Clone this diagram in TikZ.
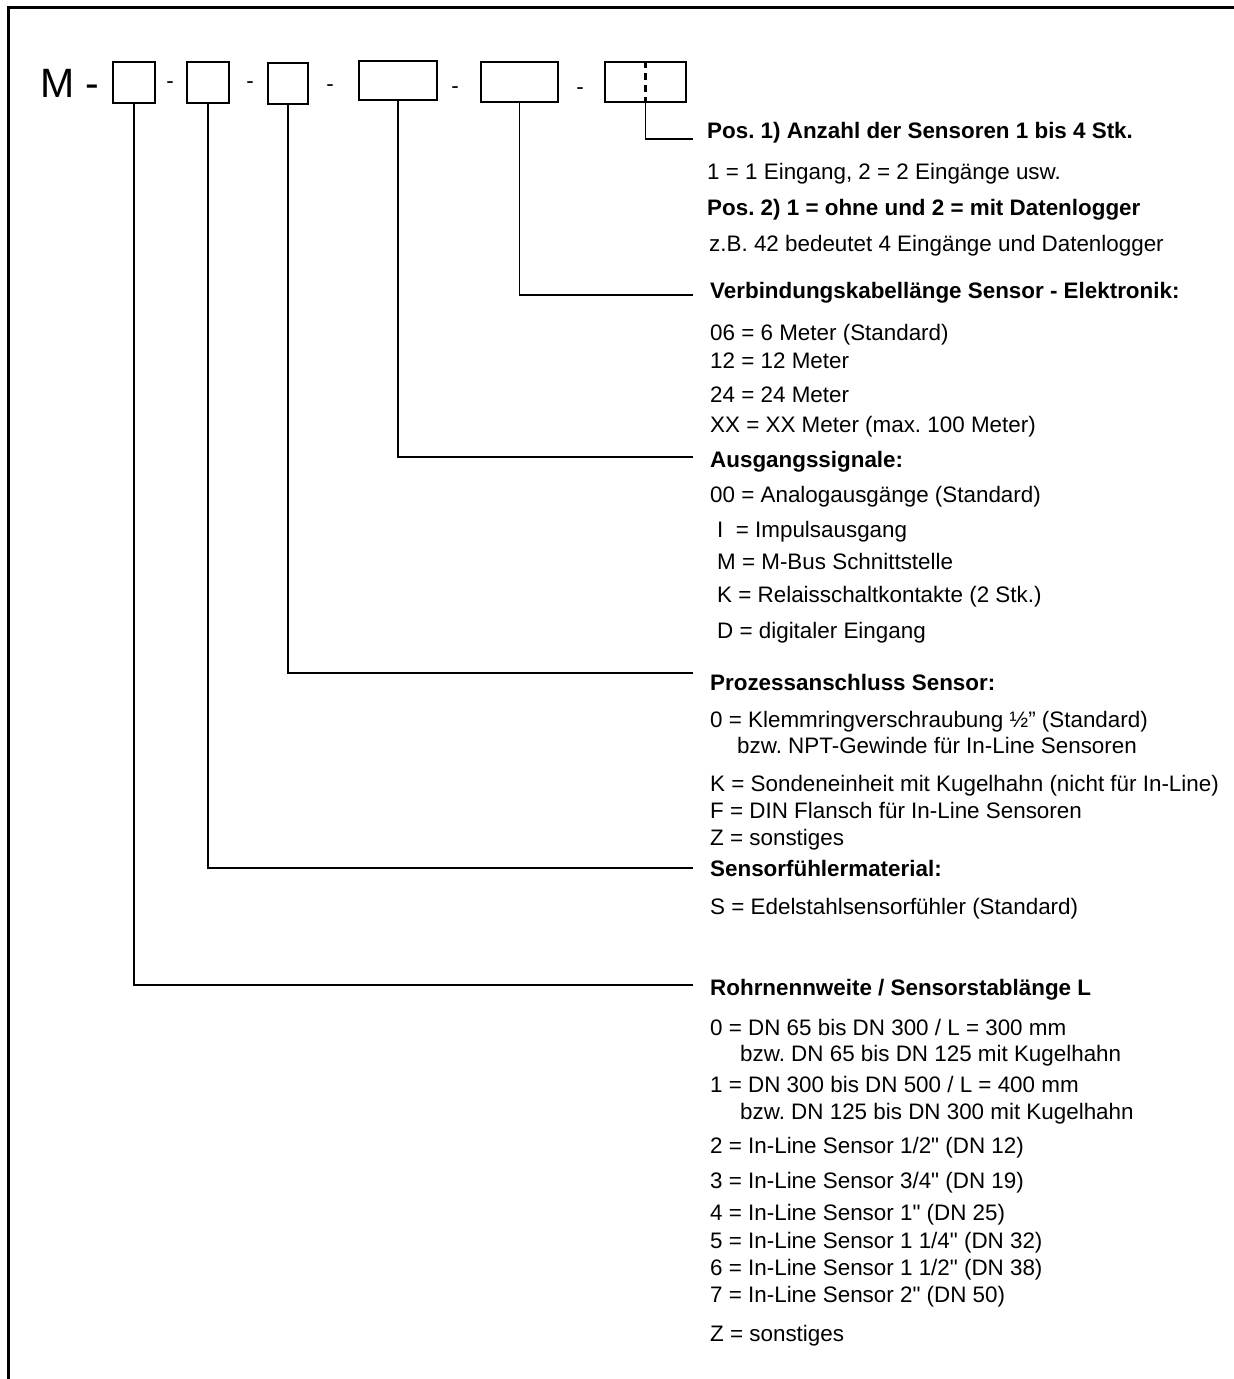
\documentclass[tikz,border=0pt]{standalone}
\usepackage{fontspec}
\setmainfont{Liberation Sans}[Ligatures=TeXOff]
\newcommand{\fsz}{\fontsize{22.4}{26}\selectfont}
\frenchspacing
\begin{document}
\begin{tikzpicture}[x=1pt,y=-1pt,
  txt/.style={anchor=base west, inner sep=0pt, font=\fsz},
  hd/.style={anchor=base west, inner sep=0pt, font=\fsz\bfseries},
  sep/.style={anchor=base, inner sep=0pt, font=\fsz},
  codebox/.style={draw, line width=2pt, inner sep=0pt},
  conn/.style={line width=1.6pt},
  frameline/.style={line width=3pt}]
\useasboundingbox (0,0) rectangle (1234,1379);
% frame (top and left only)
\draw[frameline] (8,1379) -- (8,7) -- (1234,7);

% code line
\node[anchor=base west, inner sep=0pt, font=\fontsize{41}{44}\selectfont] (mlabel) at (40,97) {M -};
\node[codebox, minimum width=42pt, minimum height=41pt] (b1) at (134,82.5) {};
\node[sep] (d1) at (170,88) {-};
\node[codebox, minimum width=42pt, minimum height=41pt] (b2) at (208,82.5) {};
\node[sep] (d2) at (250,88) {-};
\node[codebox, minimum width=40pt, minimum height=41pt] (b3) at (288,83.5) {};
\node[sep] (d3) at (330,91) {-};
\node[codebox, minimum width=78pt, minimum height=39pt] (b4) at (398,80.5) {};
\node[sep] (d4) at (455,93) {-};
\node[codebox, minimum width=77pt, minimum height=40pt] (b5) at (519.5,82) {};
\node[sep] (d5) at (580,94) {-};
\node[codebox, minimum width=81pt, minimum height=40pt] (b6) at (645.5,82) {};
\draw[line width=2.5pt, dash pattern=on 7pt off 5pt] (b6.north) -- (b6.south);

% connector end points
\coordinate (e6) at (693,139);
\coordinate (e5) at (693,295);
\coordinate (e4) at (693,457);
\coordinate (e3) at (693,673);
\coordinate (e2) at (693,868);
\coordinate (e1) at (693,985);
\draw[conn] (b6.south) |- (e6);
\draw[conn] (b5.south) |- (e5);
\draw[conn] (b4.south) |- (e4);
\draw[conn] (b3.south) |- (e3);
\draw[conn] (b2.south) |- (e2);
\draw[conn] (b1.south) |- (e1);

% section 1
\node[hd]  (h6)  at (707,138) {Pos. 1) Anzahl der Sensoren 1 bis 4 Stk.};
\node[txt] (t6a) at (707,179) {1 = 1 Eingang, 2 = 2 Eingänge usw.};
\node[hd]  (t6b) at (707,215) {Pos. 2) 1 = ohne und 2 = mit Datenlogger};
\node[txt] (t6c) at (709,251) {z.B. 42 bedeutet 4 Eingänge und Datenlogger};

% section 2
\node[hd]  (h5)  at (710,298) {Verbindungskabellänge Sensor - Elektronik:};
\node[txt] (t5a) at (710,340) {06 = 6 Meter (Standard)};
\node[txt] (t5b) at (710,368) {12 = 12 Meter};
\node[txt] (t5c) at (710,402) {24 = 24 Meter};
\node[txt] (t5d) at (710,432) {XX = XX Meter (max. 100 Meter)};

% section 3
\node[hd]  (h4)  at (710,467) {Ausgangssignale:};
\node[txt] (t4a) at (710,502) {00 = Analogausgänge (Standard)};
\node[txt] (t4b) at (717,537) {I\ \ = Impulsausgang};
\node[txt] (t4c) at (717,569) {M = M-Bus Schnittstelle};
\node[txt] (t4d) at (717,602) {K = Relaisschaltkontakte (2 Stk.)};
\node[txt] (t4e) at (717,638) {D = digitaler Eingang};

% section 4
\node[hd]  (h3)  at (710,690) {Prozessanschluss Sensor:};
\node[txt] (t3a) at (710,727) {0 = Klemmringverschraubung ½” (Standard)};
\node[txt] (t3b) at (737,753) {bzw. NPT-Gewinde für In-Line Sensoren};
\node[txt] (t3c) at (710,791) {K = Sondeneinheit mit Kugelhahn (nicht für In-Line)};
\node[txt] (t3d) at (710,818) {F = DIN Flansch für In-Line Sensoren};
\node[txt] (t3e) at (710,845) {Z = sonstiges};

% section 5
\node[hd]  (h2)  at (710,876) {Sensorfühlermaterial:};
\node[txt] (t2a) at (710,914) {S = Edelstahlsensorfühler (Standard)};

% section 6
\node[hd]  (h1)  at (710,995) {Rohrnennweite / Sensorstablänge L};
\node[txt] (t1a) at (710,1035) {0 = DN 65 bis DN 300 / L = 300 mm};
\node[txt] (t1b) at (740,1061) {bzw. DN 65 bis DN 125 mit Kugelhahn};
\node[txt] (t1c) at (710,1092) {1 = DN 300 bis DN 500 / L = 400 mm};
\node[txt] (t1d) at (740,1119) {bzw. DN 125 bis DN 300 mit Kugelhahn};
\node[txt] (t1e) at (710,1153) {2 = In-Line Sensor 1/2" (DN 12)};
\node[txt] (t1f) at (710,1188) {3 = In-Line Sensor 3/4" (DN 19)};
\node[txt] (t1g) at (710,1220) {4 = In-Line Sensor 1" (DN 25)};
\node[txt] (t1h) at (710,1248) {5 = In-Line Sensor 1 1/4" (DN 32)};
\node[txt] (t1i) at (710,1275) {6 = In-Line Sensor 1 1/2" (DN 38)};
\node[txt] (t1j) at (710,1302) {7 = In-Line Sensor 2" (DN 50)};
\node[txt] (t1k) at (710,1341) {Z = sonstiges};
\end{tikzpicture}
\end{document}
